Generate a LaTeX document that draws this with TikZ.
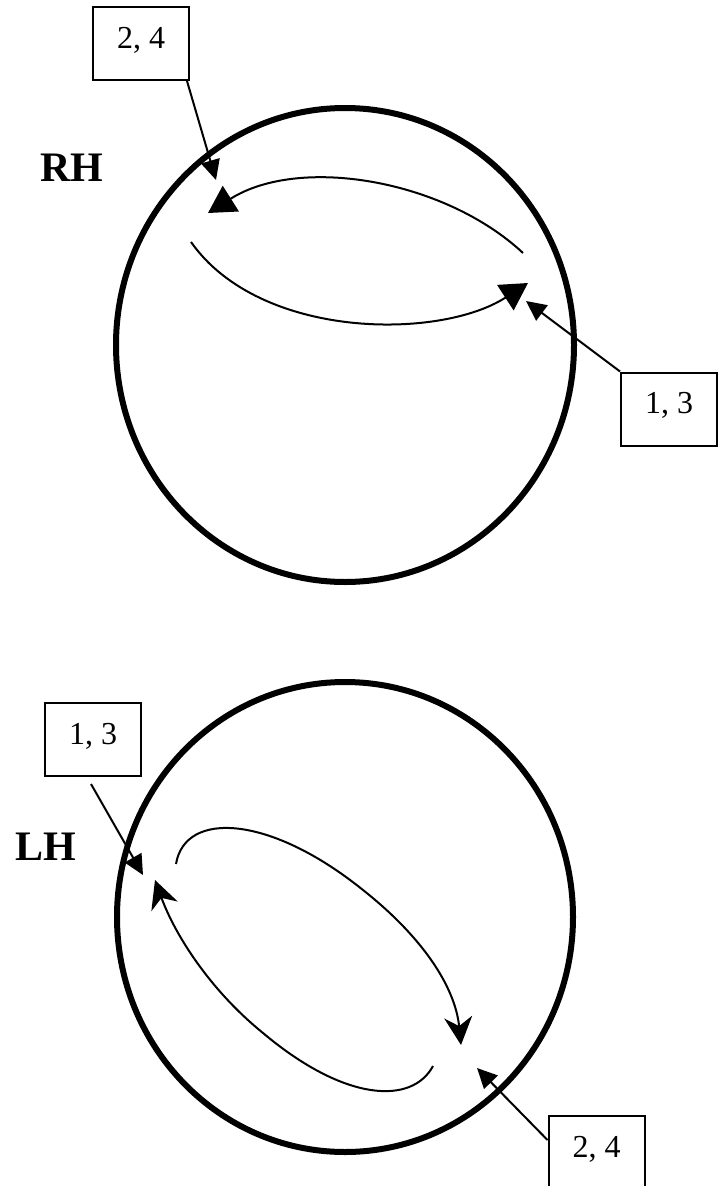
\documentclass[tikz,border=0pt]{standalone}
\usepackage{fontspec}
\setmainfont{Liberation Serif}
\usetikzlibrary{arrows.meta}
\tikzset{
  rim/.style={line width=6pt},
  loop/.style={line width=2pt},
  bigtri/.style={-{Triangle[length=27pt,width=30pt]}},
  bigstealth/.style={-{Stealth[length=28pt,width=28pt,inset=9pt]}},
  callout/.style={line width=2pt,-{Triangle[length=20pt,width=19pt]}},
  numbox/.style={draw,line width=2pt,minimum width=96pt,minimum height=73pt,inner sep=0pt,
    text depth=12pt,font=\fontsize{32}{36}\selectfont},
  hand/.style={font=\fontsize{42}{46}\selectfont\bfseries}
}
\begin{document}
\begin{tikzpicture}[x=1pt,y=-1pt]
\useasboundingbox (0,0) rectangle (723,1186);
% ---------- RH ----------
\draw[rim] (345,345) ellipse [x radius=229, y radius=237];
\node[hand] (rh) at (72,168) {RH};
\node[numbox] (rb24) at (141,43.5) {2, 4\hspace{8pt}};
\node[numbox] (rb13) at (669,409) {1, 3\hspace{8pt}};
\coordinate (rt1) at (208,213);
\coordinate (rt2) at (528,283);
\coordinate (rs1) at (523,253);
\coordinate (rs2) at (191,242);
\coordinate (rc1) at (216,180);
\coordinate (rc2) at (526,301);
\draw[loop,bigtri] (rs1) .. controls (445,180) and (300,155) .. (rt1);
\draw[loop,bigtri] (rs2) .. controls (260,340) and (440,340) .. (rt2);
\draw[callout] ([xshift=-3pt]rb24.south east) -- (rc1);
\draw[callout] (rb13.north west) -- (rc2);
% ---------- LH ----------
\draw[rim] (345,917) ellipse [x radius=228, y radius=235];
\node[hand] (lh) at (46,847) {LH};
\node[numbox] (lb13) at (93,739.5) {1, 3\hspace{8pt}};
\node[numbox] (lb24) at (596.5,1152.5) {2, 4\hspace{8pt}};
\coordinate (ls1) at (176,864);
\coordinate (lm1) at (363,890);
\coordinate (lt1) at (461,1045);
\coordinate (ls2) at (433,1066);
\coordinate (lm2) at (263,1033);
\coordinate (lt2) at (155,880);
\coordinate (lc1) at (143,875);
\coordinate (lc2) at (477,1068);
\draw[loop,bigstealth] (ls1) .. controls (185,810) and (270,815) .. (lm1)
  .. controls (420,935) and (455,985) .. (lt1);
\draw[loop,bigstealth] (ls2) .. controls (412,1105) and (345,1102) .. (lm2)
  .. controls (210,990) and (175,935) .. (lt2);
\draw[callout] ([xshift=-2pt,yshift=-7pt]lb13.south) -- (lc1);
\draw[callout] ([yshift=12.5pt]lb24.west) -- (lc2);
\end{tikzpicture}
\end{document}
